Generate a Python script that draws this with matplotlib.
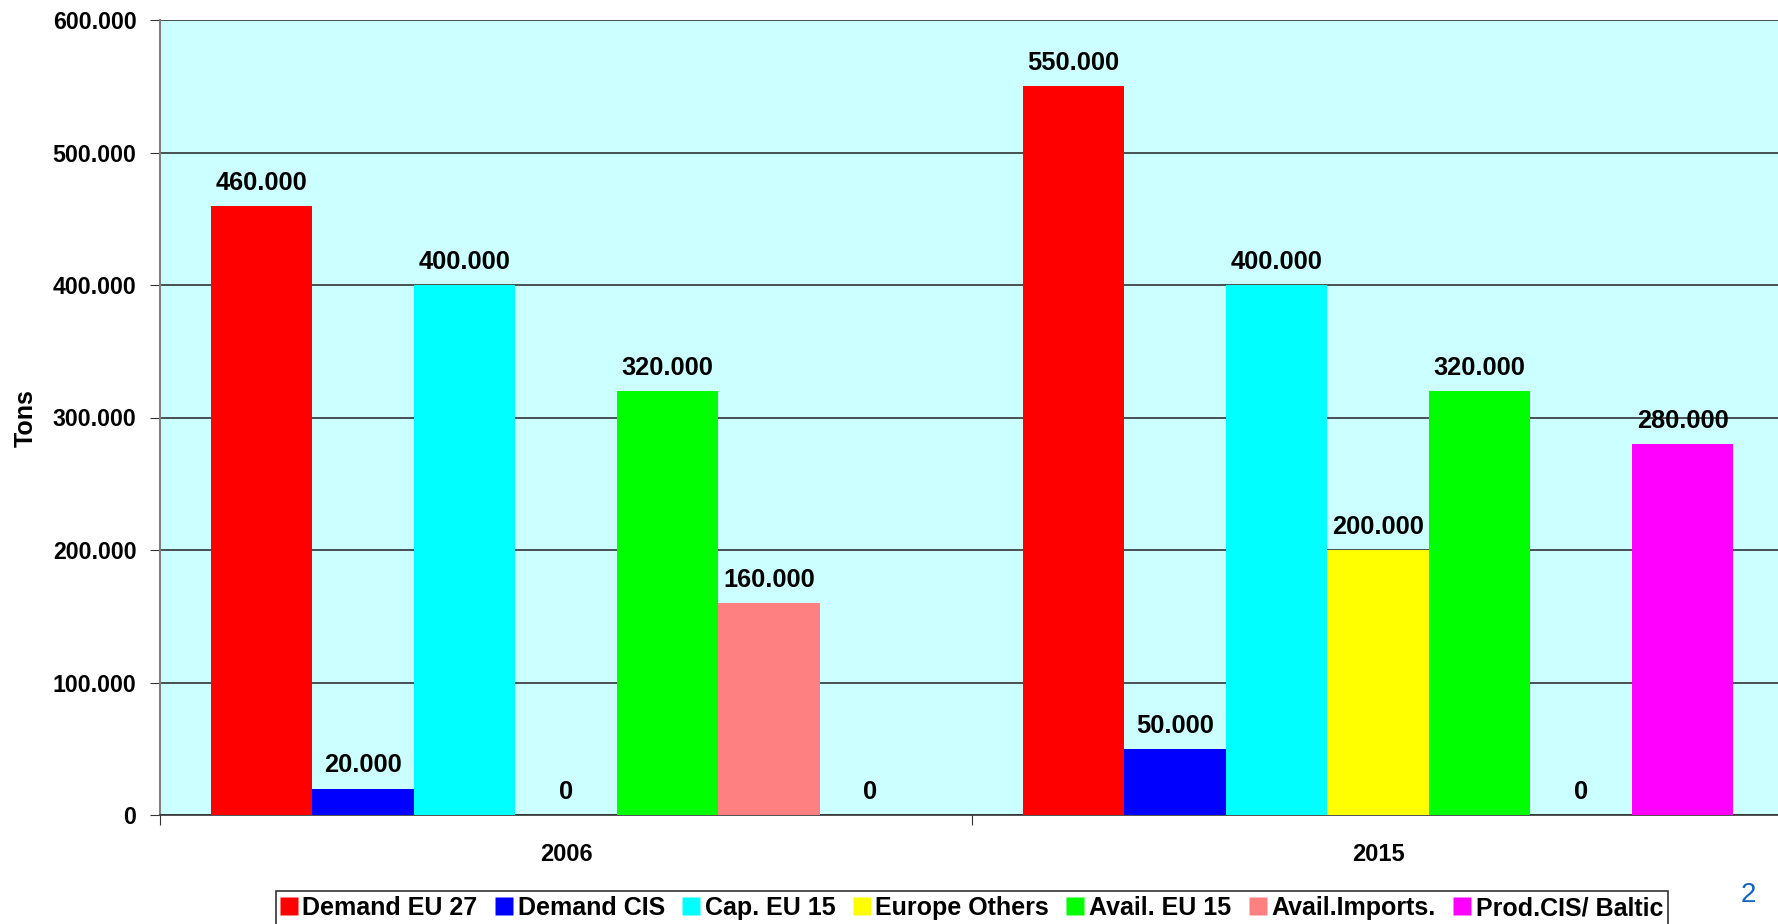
import matplotlib
matplotlib.use("Agg")
import matplotlib.pyplot as plt
from matplotlib.ticker import FuncFormatter, FixedLocator
from matplotlib.lines import Line2D

years = ["2006", "2015"]
series = ["Demand EU 27", "Demand CIS", "Cap. EU 15", "Europe Others",
          "Avail. EU 15", "Avail.Imports.", "Prod.CIS/ Baltic"]
values = {
    "Demand EU 27":     [460000, 550000],
    "Demand CIS":       [20000, 50000],
    "Cap. EU 15":       [400000, 400000],
    "Europe Others":    [0, 200000],
    "Avail. EU 15":     [320000, 320000],
    "Avail.Imports.":   [160000, 0],
    "Prod.CIS/ Baltic": [0, 280000],
}
colors = ["#FF0000", "#0000FF", "#00FFFF", "#FFFF00", "#00FF00", "#FF8080", "#FF00FF"]
yticks = [0, 100000, 200000, 300000, 400000, 500000, 600000]

plt.rcParams['font.family'] = ['Liberation Sans', 'DejaVu Sans']

W, H = 1778, 924
fig = plt.figure(figsize=(W / 100, H / 100), dpi=100)
left, right, top, bottom = 160, 1784, 20, 815
ax = fig.add_axes([left / W, 1 - bottom / H, (right - left) / W, (bottom - top) / H])
ax.set_facecolor("#CCFFFF")

n = len(series)
bw = 0.125
for i, (s, c) in enumerate(zip(series, colors)):
    xs = [k + (i - (n - 1) / 2) * bw for k in range(len(years))]
    vals = values[s]
    ax.bar(xs, vals, width=bw, color=c, edgecolor="none", zorder=3)
    for x, v in zip(xs, vals):
        lab = "0" if v == 0 else f"{v:,}".replace(",", ".")
        ax.annotate(lab, (x, v), xytext=(0, 23), textcoords="offset pixels",
                    ha="center", va="center", fontsize=18.3, fontweight="bold",
                    zorder=4)

ax.set_xlim(-0.5, 1.5)
ax.set_ylim(0, 600000)
ax.yaxis.set_major_locator(FixedLocator(yticks))
ax.yaxis.set_major_formatter(FuncFormatter(lambda v, p: "0" if v == 0 else f"{int(v):,}".replace(",", ".")))
ax.grid(axis="y", color="#333333", linewidth=1.2, zorder=1)
ax.set_axisbelow(True)

ax.set_xticks([-0.5, 0.5, 1.5])
ax.set_xticklabels([])
ax.set_xticks([0, 1], minor=True)
ax.set_xticklabels(years, minor=True)
ax.tick_params(axis="x", which="minor", length=0, pad=20, labelsize=17)
ax.tick_params(axis="x", which="major", length=7, direction="out", color="#333333")
ax.tick_params(axis="y", length=7, direction="out", color="#333333", labelsize=16.7, pad=10)
for lab in ax.get_xticklabels(minor=True) + ax.get_yticklabels():
    lab.set_fontweight("bold")

for sp in ["top", "right"]:
    ax.spines[sp].set_visible(False)
ax.spines["left"].set_color("#808080")
ax.spines["left"].set_linewidth(1.5)
ax.spines["bottom"].set_color("#333333")
ax.spines["bottom"].set_linewidth(1.2)

fig.text(25.5 / W, 1 - 418 / H, "Tons", rotation=90, fontsize=18, fontweight="bold",
         ha="center", va="center")

handles = [Line2D([0], [0], marker="s", linestyle="none", markersize=13,
                  markerfacecolor=c, markeredgecolor="none") for c in colors]
leg = fig.legend(handles, series, loc="center", ncol=7,
                 bbox_to_anchor=(972 / W, 1 - 908 / H),
                 prop={"family": ["Liberation Sans", "DejaVu Sans"],
                       "weight": "bold", "size": 18},
                 frameon=True, fancybox=False, edgecolor="black",
                 handlelength=0.6, handletextpad=0.25, columnspacing=0.75,
                 borderpad=0.2, borderaxespad=0)
leg.get_frame().set_linewidth(1.2)

fig.text(1748 / W, 1 - 895 / H, "2", color="#1565C0", fontsize=20, ha="center", va="center")

fig.savefig("out.png", dpi=100)
